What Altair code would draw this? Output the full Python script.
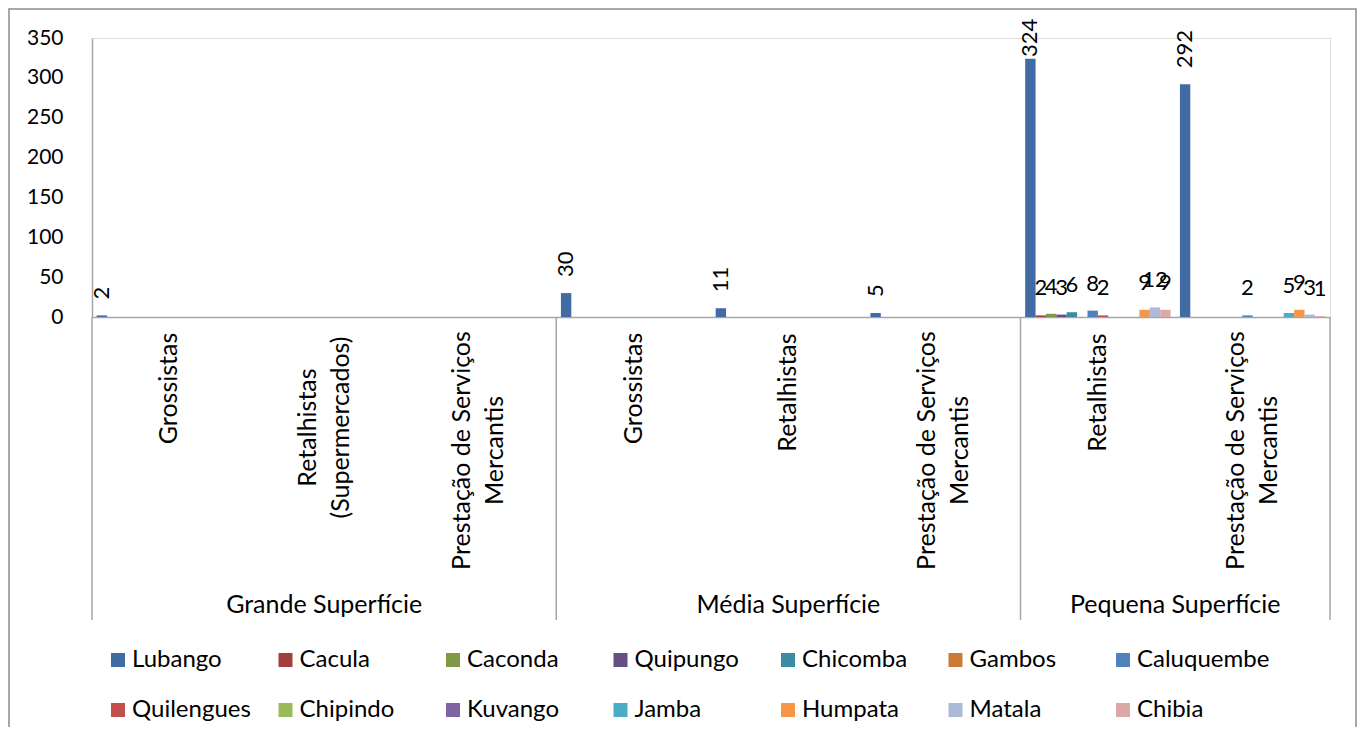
import altair as alt
import pandas as pd

FONT = "Lato"

# ---- data ----
groups = ["Grande Superfície", "Grande Superfície", "Grande Superfície",
          "Média Superfície", "Média Superfície", "Média Superfície",
          "Pequena Superfície", "Pequena Superfície"]
subcats = ["Grossistas", "Retalhistas\n(Supermercados)", "Prestação de Serviços\nMercantis",
           "Grossistas", "Retalhistas", "Prestação de Serviços\nMercantis",
           "Retalhistas", "Prestação de Serviços\nMercantis"]
series = ["Lubango", "Cacula", "Caconda", "Quipungo", "Chicomba", "Gambos", "Caluquembe",
          "Quilengues", "Chipindo", "Kuvango", "Jamba", "Humpata", "Matala", "Chibia"]
colors = ["#416CA3", "#A23F3D", "#7E9A48", "#674F86", "#3B8CA2", "#CC7B36", "#4F81BD",
          "#C0504D", "#9BBB59", "#8064A2", "#4BACC6", "#F79646", "#AABAD7", "#DBA9A8"]

lubango    = [2, None, None, 30, 11, 5, 324, 292]
cacula     = [None, None, None, None, None, None, 2, None]
caconda    = [None, None, None, None, None, None, 4, None]
quipungo   = [None, None, None, None, None, None, 3, None]
chicomba   = [None, None, None, None, None, None, 6, None]
gambos     = [None, None, None, None, None, None, None, None]
caluquembe = [None, None, None, None, None, None, 8, 2]
quilengues = [None, None, None, None, None, None, 2, None]
chipindo   = [None, None, None, None, None, None, None, None]
kuvango    = [None, None, None, None, None, None, None, None]
jamba      = [None, None, None, None, None, None, None, 5]
humpata    = [None, None, None, None, None, None, 9, 9]
matala     = [None, None, None, None, None, None, 12, 3]
chibia     = [None, None, None, None, None, None, 9, 1]

values = [lubango, cacula, caconda, quipungo, chicomba, gambos, caluquembe,
          quilengues, chipindo, kuvango, jamba, humpata, matala, chibia]

keys = [g + "|" + s for g, s in zip(groups, subcats)]

rows = []
for s, vals in zip(series, values):
    for g, k, v in zip(groups, keys, vals):
        rows.append({"cat": k, "group": g, "series": s, "value": v})
df = pd.DataFrame(rows)

group_names = ["Grande Superfície", "Média Superfície", "Pequena Superfície"]
# anchor category for each group label (middle category / boundary)
grp_mid = pd.DataFrame({"cat": [keys[1], keys[4]], "label": group_names[:2]})
grp_edge = pd.DataFrame({"cat": [keys[6]], "label": group_names[2:]})
sep_left = pd.DataFrame({"cat": [keys[0], keys[3], keys[6]]})
sep_right = pd.DataFrame({"cat": [keys[7]]})

W, H = 1238, 279

x_scale = alt.Scale(domain=keys, paddingInner=0, paddingOuter=0)
x_axis = alt.Axis(
    title=None, ticks=False, labelAngle=270, labelAlign="center", labelBaseline="middle",
    labelFont=FONT, labelFontSize=25, labelColor="#000000", labelLineHeight=33,
    labelLimit=600, labelOverlap=False,
    labelExpr="split(split(datum.label, '|')[1], '\\n')",
    labelPadding={"condition": [
        {"test": "indexof(datum.value, 'Presta') >= 0", "value": 133},
        {"test": "indexof(datum.value, 'Supermercados') >= 0", "value": 110},
        {"test": "indexof(datum.value, 'Grossistas') >= 0", "value": 71}],
        "value": 75},
    labelOffset={"condition": {"test": "indexof(datum.value, '\\n') >= 0", "value": -16.5},
                 "value": 0},
    domainColor="#A6A6A6", domainWidth=1.5)
y_scale = alt.Scale(domain=[0, 350], nice=False)
y_axis = alt.Axis(title=None, values=list(range(0, 351, 50)), grid=False, ticks=False,
                  labelPadding=29, labelFont=FONT, labelFontSize=21, labelColor="#000000",
                  domainColor="#A6A6A6", domainWidth=1.5)
xo_scale = alt.Scale(domain=series, paddingInner=0, paddingOuter=0.45)

X = alt.X("cat:N", scale=x_scale, axis=x_axis)
XO = alt.XOffset("series:N", scale=xo_scale)
Y = alt.Y("value:Q", scale=y_scale, axis=y_axis)
# label anchor kept inside the chart area (as the spreadsheet does)
Y_LAB = alt.Y("labpos:Q", scale=y_scale, axis=y_axis)

bars = alt.Chart(df).mark_bar().encode(
    x=X, xOffset=XO, y=Y,
    color=alt.Color("series:N", scale=alt.Scale(domain=series, range=colors),
                    legend=alt.Legend(orient="none", legendX=14, legendY=610, direction="horizontal",
                                      columns=7, title=None, symbolType="square", symbolSize=196,
                                      symbolStrokeWidth=0, labelFont=FONT, labelFontSize=24,
                                      labelColor="#000000", labelOffset=2, gridAlign="all",
                                      columnPadding=8.5, rowPadding=26, padding=0, labelLimit=300)))

lab_rot = alt.Chart(df).transform_filter(
    "isValid(datum.value) && datum.value > 0 && (datum.group != 'Pequena Superfície' || datum.series == 'Lubango')"
).transform_calculate(labpos="min(datum.value, 306)").mark_text(
    angle=270, align="left", baseline="middle", dx=16, font=FONT, fontSize=22, color="#000000").encode(
    x=X, xOffset=XO, y=Y_LAB, text="value:Q")

lab_hor = alt.Chart(df).transform_filter(
    "isValid(datum.value) && datum.value > 0 && datum.group == 'Pequena Superfície' && datum.series != 'Lubango'"
).mark_text(align="center", baseline="alphabetic", dy=-20, font=FONT, fontSize=22, color="#000000").encode(
    x=X, xOffset=XO, y=Y, text="value:Q")

grp1 = alt.Chart(grp_mid).mark_text(font=FONT, fontSize=25, color="#000000", baseline="middle").encode(
    x=alt.X("cat:N", scale=x_scale, axis=x_axis, bandPosition=0.5),
    y=alt.value(567), text="label:N")
grp2 = alt.Chart(grp_edge).mark_text(font=FONT, fontSize=25, color="#000000", baseline="middle").encode(
    x=alt.X("cat:N", scale=x_scale, axis=x_axis, bandPosition=1),
    y=alt.value(567), text="label:N")

sep1 = alt.Chart(sep_left).mark_rule(color="#A6A6A6", strokeWidth=1.5).encode(
    x=alt.X("cat:N", scale=x_scale, axis=x_axis, bandPosition=0),
    y=alt.value(H), y2=alt.value(582))
sep2 = alt.Chart(sep_right).mark_rule(color="#A6A6A6", strokeWidth=1.5).encode(
    x=alt.X("cat:N", scale=x_scale, axis=x_axis, bandPosition=1),
    y=alt.value(H), y2=alt.value(582))

frame = alt.Chart(pd.DataFrame({"a": [0]})).mark_rect(
    fillOpacity=0, stroke="#8C8C8C", strokeWidth=1.5).encode(
    x=alt.value(-83), x2=alt.value(1264), y=alt.value(-29), y2=alt.value(720))

chart = alt.layer(frame, bars, lab_rot, lab_hor, sep1, sep2, grp1, grp2).properties(
    width=W, height=H,
    padding={"left": 84, "top": 30, "right": 27, "bottom": 410},
    autosize=alt.AutoSizeParams(type="none"),
).configure_view(stroke=None).configure(background="white")

chart.save("out.html", embed_options={"renderer": "svg", "actions": False})
